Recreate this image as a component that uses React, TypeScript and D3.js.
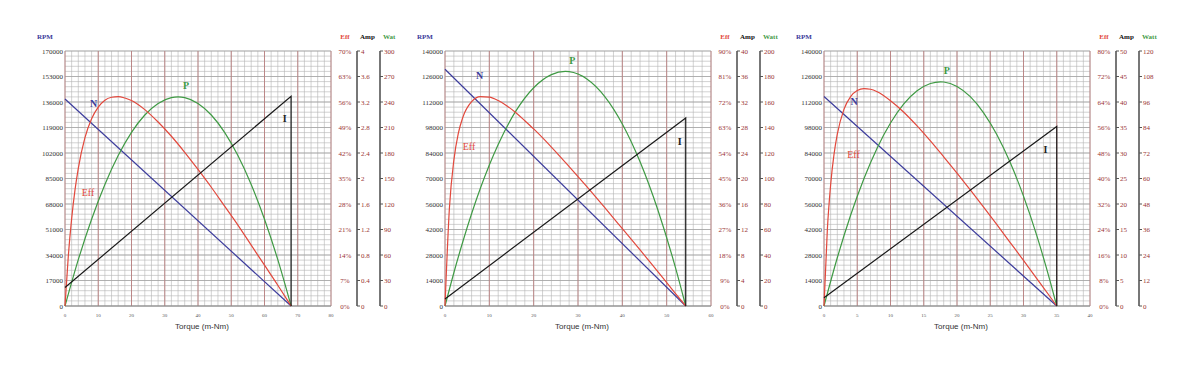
import React from "react";
import * as d3 from "d3";

// ---------- Panel 1 ----------
const effTorque1 = [0, 1, 2, 3, 4, 6, 8, 10, 12, 14, 16, 18, 20, 24, 28, 32, 36, 40, 44, 48, 52, 56, 60, 64, 68];
const eff1 = [0, 13.8, 24.0, 31.8, 37.8, 46.2, 51.4, 54.6, 56.5, 57.3, 57.5, 57.1, 56.4, 53.9, 50.5, 46.6, 42.2, 37.5, 32.6, 27.4, 22.2, 16.7, 11.2, 5.7, 0];
const wattTorque1 = [0, 4, 8, 12, 16, 20, 24, 28, 32, 34, 36, 40, 44, 48, 52, 56, 60, 64, 68];
const watt1 = [0, 54.5, 102.1, 143.0, 177.0, 204.3, 224.7, 238.3, 245.1, 246, 245.1, 238.3, 224.7, 204.3, 177.0, 143.0, 102.1, 54.5, 0];
const rpmTorque1 = [0, 68];
const rpm1 = [138000, 0];
const ampTorque1 = [0, 68, 68];
const amp1 = [0.29, 3.29, 0];

// ---------- Panel 2 ----------
const effTorque2 = [0, 1, 2, 3, 4, 6, 8, 10, 12, 14, 16, 18, 20, 24, 28, 32, 36, 40, 44, 48, 52, 54.3];
const eff2 = [0, 34.7, 51.5, 60.9, 66.5, 72.1, 73.9, 73.7, 72.5, 70.6, 68.2, 65.4, 62.5, 56.1, 49.2, 42.1, 34.8, 27.3, 19.8, 12.1, 4.4, 0];
const wattTorque2 = [0, 2, 4, 8, 12, 16, 20, 24, 27.15, 28, 32, 36, 40, 44, 48, 52, 54.3];
const watt2 = [0, 26.1, 50.2, 92.5, 126.7, 153.0, 171.2, 181.5, 184, 183.8, 178.1, 164.5, 142.8, 113.1, 75.5, 29.9, 0];
const rpmTorque2 = [0, 54.3];
const rpm2 = [130000, 0];
const ampTorque2 = [0, 54.3, 54.3];
const amp2 = [1.1, 29.5, 0];

// ---------- Panel 3 ----------
const effTorque3 = [0, 0.5, 1, 1.5, 2, 3, 4, 5, 6, 7, 8, 10, 12, 14, 16, 18, 20, 22, 24, 26, 28, 30, 32, 34, 35];
const eff3 = [0, 23.8, 38.1, 47.5, 53.9, 61.7, 65.7, 67.6, 68.2, 68.0, 67.2, 64.4, 60.8, 56.5, 51.8, 46.8, 41.7, 36.4, 31.0, 25.5, 19.9, 14.3, 8.6, 2.9, 0];
const wattTorque3 = [0, 2, 4, 6, 8, 10, 12, 14, 16, 17.5, 18, 20, 22, 24, 26, 28, 30, 32, 34, 35];
const watt3 = [0, 22.7, 42.7, 59.9, 74.4, 86.1, 95.1, 101.3, 104.7, 105.5, 105.4, 103.3, 98.5, 90.9, 80.6, 67.5, 51.7, 33.1, 11.7, 0];
const rpmTorque3 = [0, 35];
const rpm3 = [115000, 0];
const ampTorque3 = [0, 35, 35];
const amp3 = [1.62, 35.2, 0];

// ---------- Axes ----------
const torqueMax = [80, 60, 40];
const torqueStep = [10, 10, 5];
const rpmMax = [170000, 140000, 140000];
const effMax = [70, 90, 80];
const ampMax = [4, 40, 50];
const wattMax = [300, 200, 120];
const wattTitle = ["Wat", "Watt", "Watt"];
const xAxisTitle = "Torque (m-Nm)";

// curve label anchors (torque, fraction of height)
const labelN = [[7.5, 0.78], [7, 0.89], [4, 0.79]];
const labelP = [[35.5, 0.85], [28, 0.95], [18, 0.91]];
const labelI = [[65.5, 0.72], [52.5, 0.63], [33, 0.6]];
const labelEff = [[5, 0.43], [4, 0.61], [3.5, 0.58]];

const panels = [
  { tq: [effTorque1, wattTorque1, rpmTorque1, ampTorque1], val: [eff1, watt1, rpm1, amp1] },
  { tq: [effTorque2, wattTorque2, rpmTorque2, ampTorque2], val: [eff2, watt2, rpm2, amp2] },
  { tq: [effTorque3, wattTorque3, rpmTorque3, ampTorque3], val: [eff3, watt3, rpm3, amp3] },
];

const LEFTS = [65, 445, 824];
const W = 266;
const TOP = 51;
const BOTTOM = 306;

const C_BLUE = "#3c3c9c";
const C_RED = "#e2483c";
const C_GREEN = "#3f9a44";
const C_DARKRED = "#9a3434";
const FONT = "'Liberation Serif', 'DejaVu Serif', serif";

function fmt(v: number) {
  return String(Math.round(v * 100) / 100);
}

function Panel({ i }: { i: number }) {
  const x0 = LEFTS[i];
  const x = d3.scaleLinear().domain([0, torqueMax[i]]).range([x0, x0 + W]);
  const yR = d3.scaleLinear().domain([0, rpmMax[i]]).range([BOTTOM, TOP]);
  const yE = d3.scaleLinear().domain([0, effMax[i]]).range([BOTTOM, TOP]);
  const yA = d3.scaleLinear().domain([0, ampMax[i]]).range([BOTTOM, TOP]);
  const yW = d3.scaleLinear().domain([0, wattMax[i]]).range([BOTTOM, TOP]);
  const right = x0 + W;
  const ampX = right + 26;
  const wattX = right + 49;

  const xMajor = d3.range(0, torqueMax[i] + 1e-6, torqueStep[i]);
  const xMinor = d3.range(0, torqueMax[i] + 1e-6, torqueStep[i] / 5);
  const yFrac = d3.range(0, 10.001, 1).map((k) => k / 10);
  const yMinorFrac = d3.range(0, 50.001, 1).map((k) => k / 50);
  const yPix = (f: number) => BOTTOM - f * (BOTTOM - TOP);

  const p = panels[i];
  const mk = (tq: number[], vals: number[], ys: d3.ScaleLinear<number, number>, curve: any) =>
    d3
      .line<number>()
      .x((_, k) => x(tq[k]))
      .y((v) => ys(v))
      .curve(curve)(vals) || "";

  const effPath = mk(p.tq[0], p.val[0], yE, d3.curveMonotoneX);
  const wattPath = mk(p.tq[1], p.val[1], yW, d3.curveMonotoneX);
  const rpmPath = mk(p.tq[2], p.val[2], yR, d3.curveLinear);
  const ampPath = mk(p.tq[3], p.val[3], yA, d3.curveLinear);

  const lab = (a: number[]) => [x(a[0]), yPix(a[1])];

  return (
    <g>
      {/* grid minor */}
      {yMinorFrac.map((f, k) => (
        <line key={"hy" + k} x1={x0} x2={right} y1={yPix(f)} y2={yPix(f)} stroke="#b4b4b4" strokeWidth={0.6} />
      ))}
      {xMinor.map((t, k) => (
        <line key={"vx" + k} x1={x(t)} x2={x(t)} y1={TOP} y2={BOTTOM} stroke="#b4b4b4" strokeWidth={0.6} />
      ))}
      {yFrac.map((f, k) => (
        <line key={"hM" + k} x1={x0} x2={right} y1={yPix(f)} y2={yPix(f)} stroke="#a2a2a2" strokeWidth={0.7} />
      ))}
      {xMajor.map((t, k) => (
        <line key={"vM" + k} x1={x(t)} x2={x(t)} y1={TOP} y2={BOTTOM} stroke="#b97f7f" strokeWidth={0.9} />
      ))}
      <line x1={x0} x2={right} y1={BOTTOM} y2={BOTTOM} stroke="#888" strokeWidth={0.9} />

      {/* curves */}
      <path d={rpmPath} fill="none" stroke={C_BLUE} strokeWidth={1.2} />
      <path d={wattPath} fill="none" stroke={C_GREEN} strokeWidth={1.2} />
      <path d={effPath} fill="none" stroke={C_RED} strokeWidth={1.2} />
      <path d={ampPath} fill="none" stroke="#1a1a1a" strokeWidth={1.2} />

      {/* curve labels */}
      <text x={lab(labelN[i])[0]} y={lab(labelN[i])[1]} fill={C_BLUE} fontSize={10} fontFamily={FONT} fontWeight="bold">N</text>
      <text x={lab(labelP[i])[0]} y={lab(labelP[i])[1]} fill={C_GREEN} fontSize={10} fontFamily={FONT} fontWeight="bold">P</text>
      <text x={lab(labelI[i])[0]} y={lab(labelI[i])[1]} fill="#222" fontSize={10} fontFamily={FONT} fontWeight="bold">I</text>
      <text x={lab(labelEff[i])[0]} y={lab(labelEff[i])[1]} fill={C_RED} fontSize={10} fontFamily={FONT}>Eff</text>

      {/* left axis */}
      <text x={x0 - 20} y={39} fill={C_BLUE} fontSize={7} fontFamily={FONT} fontWeight="bold" textAnchor="middle">RPM</text>
      {d3.range(0, 11).map((k) => {
        const v = (rpmMax[i] / 10) * k;
        return (
          <text key={"rl" + k} x={x0 - 2} y={yR(v) + 2.5} fontSize={7} fontFamily={FONT} fill="#333" textAnchor="end">{fmt(v)}</text>
        );
      })}
      {/* x axis labels */}
      {xMajor.map((t, k) => (
        <text key={"xl" + k} x={x(t)} y={317} fontSize={5} fontFamily={FONT} fill="#555" textAnchor="middle">{fmt(t)}</text>
      ))}
      <text x={x0 + W / 2 + 4} y={329} fontSize={8} fontFamily="'Liberation Sans', Arial, sans-serif" fill="#333" textAnchor="middle">{xAxisTitle}</text>

      {/* right axes */}
      <text x={right + 14} y={39} fill={C_RED} fontSize={7} fontFamily={FONT} fontWeight="bold" textAnchor="middle">Eff</text>
      <text x={ampX + 3} y={39} fill="#111" fontSize={7} fontFamily={FONT} fontWeight="bold">Amp</text>
      <text x={wattX + 3} y={39} fill={C_GREEN} fontSize={7} fontFamily={FONT} fontWeight="bold">{wattTitle[i]}</text>
      {d3.range(0, 11).map((k) => {
        const ve = (effMax[i] / 10) * k;
        const va = (ampMax[i] / 10) * k;
        const vw = (wattMax[i] / 10) * k;
        const y = yE(ve);
        return (
          <g key={"ra" + k}>
            <text x={right + 14} y={y + 2.5} fontSize={7} fontFamily={FONT} fill={C_DARKRED} textAnchor="middle">{fmt(ve) + "%"}</text>
            <line x1={ampX} x2={ampX + 3} y1={yA(va)} y2={yA(va)} stroke="#555" strokeWidth={1} />
            <text x={ampX + 4} y={yA(va) + 2.5} fontSize={7} fontFamily={FONT} fill={C_DARKRED}>{fmt(va)}</text>
            <line x1={wattX} x2={wattX + 3} y1={yW(vw)} y2={yW(vw)} stroke="#555" strokeWidth={1} />
            <text x={wattX + 4} y={yW(vw) + 2.5} fontSize={7} fontFamily={FONT} fill={C_DARKRED}>{fmt(vw)}</text>
          </g>
        );
      })}
      <line x1={ampX} x2={ampX} y1={TOP} y2={BOTTOM} stroke="#555" strokeWidth={1.6} />
      <line x1={wattX} x2={wattX} y1={TOP} y2={BOTTOM} stroke="#555" strokeWidth={1.6} />
    </g>
  );
}

export default function App() {
  return (
    <svg
      width={1200}
      height={366}
      style={{ position: "absolute", left: 0, top: 0, background: "#fff" }}
    >
      <rect x={0} y={0} width={1200} height={366} fill="#fff" />
      {[0, 1, 2].map((i) => (
        <Panel key={i} i={i} />
      ))}
    </svg>
  );
}
